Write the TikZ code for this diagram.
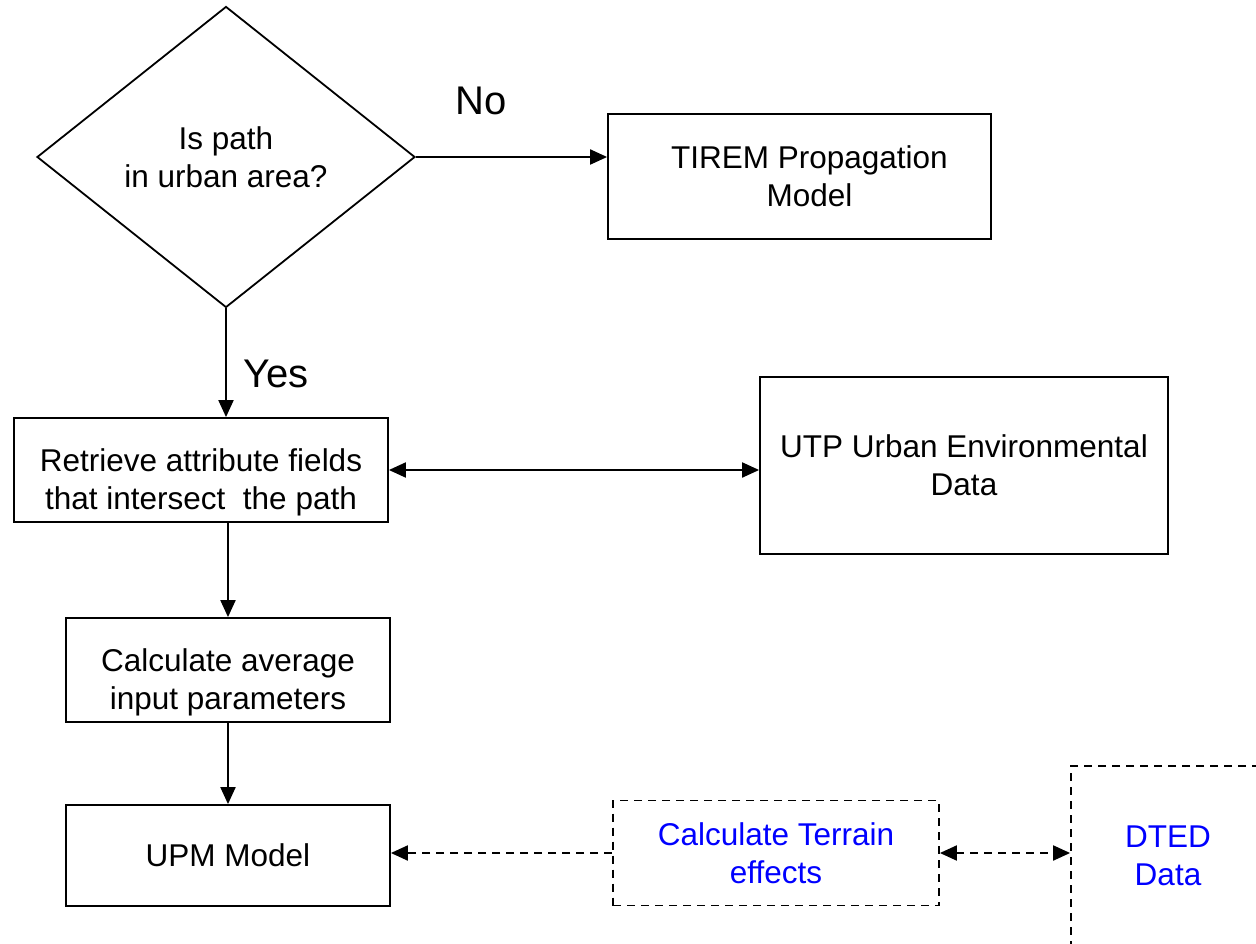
\documentclass[tikz,border=0pt]{standalone}
\usepackage{fontspec}
\setmainfont{Liberation Sans}
\usepackage{xcolor}
\usetikzlibrary{arrows.meta,positioning,shapes.geometric}
\definecolor{flowblack}{RGB}{0,0,0}
\definecolor{flowblue}{RGB}{0,0,255}
\newcommand{\flowfont}{\fontsize{31.5}{38}\selectfont}
\newcommand{\answerfont}{\fontsize{40}{44}\selectfont}
\newcommand{\downstrut}{\rule{0pt}{47pt}}
\tikzset{
  fbox/.style={draw=flowblack,line width=1.8pt,align=center,inner sep=0pt,font=\flowfont},
  fdash/.style={fbox,dash pattern=on 8pt off 6pt,text=flowblue},
  fdiamond/.style={fbox,diamond,minimum width=378pt,minimum height=301pt},
  fanswer/.style={font=\answerfont,inner sep=0pt},
  ftip/.tip={Triangle[length=17pt,width=15pt]},
  farrow/.style={draw=flowblack,line width=2pt,-ftip},
  fdarrow/.style={draw=flowblack,line width=2pt,ftip-ftip},
}

\begin{document}
\begin{tikzpicture}[x=1pt,y=-1pt]
\useasboundingbox (0,0) rectangle (1256,944);

% ============ decision ============
\node[fdiamond] (urban) at (226,157) {Is path\\ in urban area?};
\node[fbox,minimum width=383pt,minimum height=125pt] (tirem) at (799.5,176.5)
  {\hspace*{20pt}TIREM Propagation\\ \hspace*{20pt}Model};
\node[fanswer] (no) at (481,101) {No};
\node[fanswer] (yes) at (276,374) {Yes};
\draw[farrow] (urban.east) -- (urban.east -| tirem.west);

% ============ urban branch ============
\node[fbox,minimum width=374pt,minimum height=104pt] (fields) at (201,470)
  {\downstrut Retrieve attribute fields\\ that intersect\ \ the path};
\node[fbox,minimum width=408pt,minimum height=177pt] (utp) at (964,465.5)
  {UTP Urban Environmental\\ Data};
\node[fbox,minimum width=324pt,minimum height=104pt] (avg) at (228,670)
  {\downstrut Calculate average\\ input parameters};
\node[fbox,minimum width=324pt,minimum height=101pt] (upm) at (228,855.5)
  {UPM Model};
\draw[farrow] (urban.south) -- (urban.south |- fields.north);
\draw[fdarrow] (fields.east) -- (fields.east -| utp.west);
\draw[farrow] (avg.north |- fields.south) -- (avg.north);
\draw[farrow] (avg.south) -- (upm.north);

% ============ terrain (dashed) ============
\node[fdash,minimum width=326pt,minimum height=105pt] (terrain) at (776,853)
  {Calculate Terrain\\ effects};
\node[fdash,minimum width=194pt,minimum height=179pt] (dted) at (1168,855.5)
  {DTED\\ Data};
\draw[farrow,dash pattern=on 8pt off 6pt] (terrain.west) -- (terrain.west -| upm.east);
\draw[fdarrow,dash pattern=on 8pt off 6pt] (terrain.east) -- (terrain.east -| dted.west);
\end{tikzpicture}
\end{document}
